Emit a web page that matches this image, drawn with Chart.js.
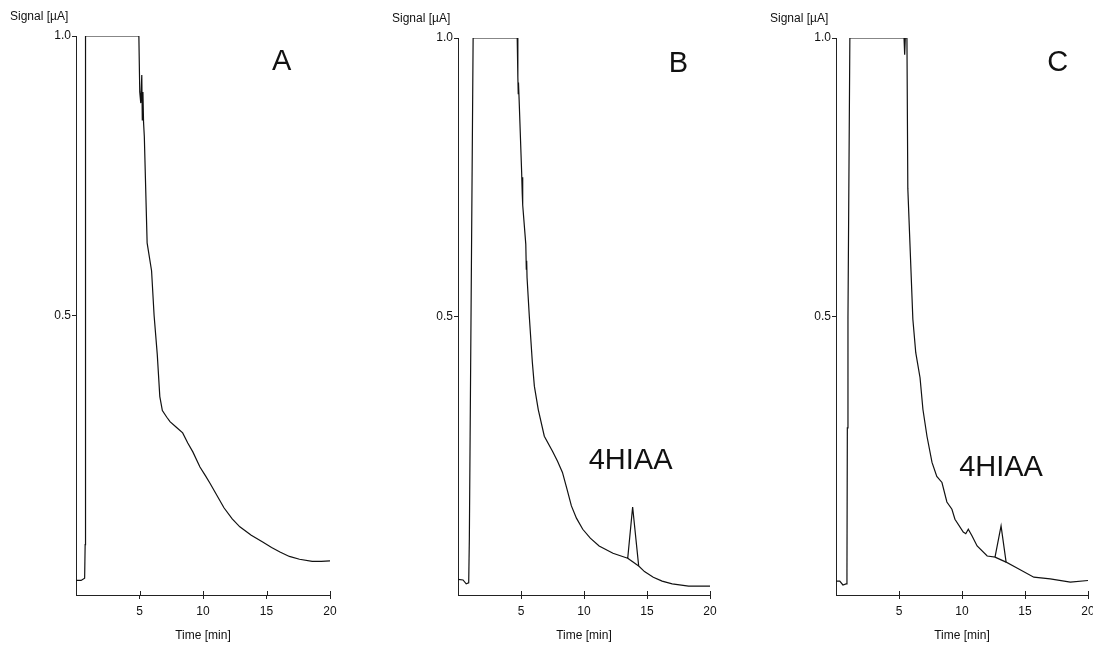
<!DOCTYPE html>
<html>
<head>
<meta charset="utf-8">
<script src="https://cdn.jsdelivr.net/npm/chart.js@4.4.1/dist/chart.umd.min.js"></script>
<style>
  html, body { margin: 0; padding: 0; background: #fff; overflow: hidden; }
  .panel { position: absolute; top: 0; }
</style>
</head>
<body>
<canvas id="chartA" class="panel" width="360" height="645" style="left:0px"></canvas>
<canvas id="chartB" class="panel" width="360" height="645" style="left:380px"></canvas>
<canvas id="chartC" class="panel" width="345" height="645" style="left:760px"></canvas>
<script>
// tick values
const xTicks = [5, 10, 15, 20];
const yTicks = [0.5, 1.0];

// chromatogram A
const timeA = [0, 0.4, 0.68, 0.72, 0.75, 4.95, 5.02, 5.1, 5.18, 5.22, 5.27, 5.32, 5.38, 5.6, 5.95, 6.15,
  6.4, 6.6, 6.8, 7.15, 7.4, 7.9, 8.4, 8.8, 9.2, 9.76, 10.2, 10.55, 11.1, 11.65, 12.3, 12.9, 13.8, 14.7,
  15.4, 16.06, 16.8, 17.6, 18.6, 19.3, 20];
const signalA = [0.026, 0.026, 0.03, 0.09, 1.0, 1.0, 0.9, 0.88, 0.93, 0.85, 0.9, 0.845, 0.82, 0.63, 0.58, 0.5,
  0.43, 0.355, 0.33, 0.318, 0.31, 0.3, 0.29, 0.272, 0.256, 0.229, 0.213, 0.2, 0.178, 0.156, 0.136, 0.122, 0.107, 0.095,
  0.085, 0.077, 0.069, 0.064, 0.06, 0.06, 0.061];

// chromatogram B
const timeB = [0, 0.4, 0.65, 0.85, 0.9, 1.2, 4.7, 4.75, 4.78, 4.8, 4.85, 5.05, 5.1, 5.12, 5.15, 5.38, 5.42, 5.45, 5.48, 5.66,
  5.9, 6.06, 6.37, 6.85, 7.5, 7.9, 8.29, 8.65, 9.0, 9.4, 9.9, 10.5, 11.2, 12.3, 13.47, 13.86, 14.34,
  14.8, 15.5, 16.2, 17.0, 18.3, 20];
const signalB = [0.028, 0.027, 0.02, 0.022, 0.1, 1.0, 1.0, 0.93, 0.9, 0.92, 0.89, 0.76, 0.72, 0.75, 0.7, 0.63, 0.585, 0.6, 0.57, 0.5,
  0.418, 0.375, 0.333, 0.285, 0.258, 0.24, 0.22, 0.19, 0.16, 0.138, 0.118, 0.102, 0.088, 0.075, 0.066, 0.158, 0.052,
  0.042, 0.032, 0.025, 0.02, 0.016, 0.016];
const baseTimeB = [13.47, 14.34];
const baseSignalB = [0.066, 0.052];

// chromatogram C
const timeC = [0, 0.3, 0.55, 0.8, 0.87, 0.9, 0.95, 1.1, 5.4, 5.45, 5.5, 5.63, 5.7, 6.1, 6.33, 6.67, 6.9, 7.22, 7.62, 8.0,
  8.41, 8.8, 9.2, 9.44, 10.1, 10.3, 10.5, 10.8, 11.2, 12.0, 12.62, 13.1, 13.5, 14.4, 15.7, 17.0, 18.6, 20];
const signalC = [0.025, 0.025, 0.018, 0.02, 0.04, 0.3, 0.5, 1.0, 1.0, 0.97, 1.0, 1.0, 0.73, 0.495, 0.435, 0.39, 0.333, 0.285, 0.238, 0.213,
  0.202, 0.167, 0.154, 0.136, 0.113, 0.11, 0.118, 0.106, 0.088, 0.07, 0.068, 0.124, 0.059, 0.048, 0.032, 0.029, 0.023, 0.026];
const baseTimeC = [12.62, 13.5];
const baseSignalC = [0.068, 0.059];

const FONT = '"Liberation Sans", Arial, sans-serif';
const toPoints = (xs, ys) => xs.map((x, i) => ({ x: x, y: ys[i] }));

// extra text + upward half of x ticks
const panelText = {
  id: 'panelText',
  afterDraw(chart, args, opts) {
    const { ctx, chartArea, scales } = chart;
    const sx = scales.x, sy = scales.y;
    ctx.save();
    ctx.fillStyle = '#111';
    ctx.strokeStyle = '#222';
    ctx.lineWidth = 1;
    sx.ticks.forEach(t => {
      const px = Math.round(sx.getPixelForValue(t.value)) + 0.5;
      ctx.beginPath();
      ctx.moveTo(px, chartArea.bottom);
      ctx.lineTo(px, chartArea.bottom - 4);
      ctx.stroke();
    });
    ctx.textAlign = 'left';
    ctx.textBaseline = 'middle';
    ctx.font = '12px ' + FONT;
    ctx.fillText('Signal [µA]', chartArea.left - 66, chartArea.top - 19);
    ctx.textAlign = 'center';
    ctx.textBaseline = 'alphabetic';
    ctx.font = '29px ' + FONT;
    ctx.fillText(opts.letter, sx.getPixelForValue(opts.letterAt[0]), sy.getPixelForValue(opts.letterAt[1]));
    if (opts.peakAt) {
      ctx.fillText('4HIAA', sx.getPixelForValue(opts.peakAt[0]), sy.getPixelForValue(opts.peakAt[1]));
    }
    ctx.restore();
  }
};

function makeChart(id, datasets, pad, text) {
  const ctx = document.getElementById(id).getContext('2d');
  return new Chart(ctx, {
    type: 'line',
    data: {
      datasets: datasets.map(d => ({
        data: d,
        borderColor: '#111',
        borderWidth: 1.2,
        pointRadius: 0,
        tension: 0,
        fill: false
      }))
    },
    options: {
      responsive: false,
      animation: false,
      devicePixelRatio: 1,
      layout: { padding: pad },
      plugins: {
        legend: { display: false },
        tooltip: { enabled: false },
        panelText: text
      },
      scales: {
        x: {
          type: 'linear', min: 0, max: 20,
          afterBuildTicks: s => { s.ticks = xTicks.map(v => ({ value: v })); },
          afterFit: s => { s.height = 50; },
          grid: { drawOnChartArea: false, tickLength: 4, color: '#222' },
          border: { color: '#222', width: 1 },
          ticks: { color: '#111', padding: 5, font: { size: 12, family: FONT }, callback: v => String(v) },
          title: { display: true, text: 'Time [min]', color: '#111', font: { size: 12, family: FONT }, padding: { top: 0, bottom: 2 } }
        },
        y: {
          type: 'linear', min: 0, max: 1,
          afterBuildTicks: s => { s.ticks = yTicks.map(v => ({ value: v })); },
          afterFit: s => { s.width = 66; },
          grid: { drawOnChartArea: false, tickLength: 4, color: '#222' },
          border: { color: '#222', width: 1 },
          ticks: { color: '#111', padding: 1, font: { size: 12, family: FONT }, callback: v => Number(v).toFixed(1) }
        }
      }
    },
    plugins: [panelText]
  });
}

makeChart('chartA', [toPoints(timeA, signalA)],
  { left: 10, right: 30, top: 36, bottom: 0 },
  { letter: 'A', letterAt: [16.2, 0.939] });

makeChart('chartB', [toPoints(timeB, signalB), toPoints(baseTimeB, baseSignalB)],
  { left: 12, right: 30, top: 38, bottom: 0 },
  { letter: 'B', letterAt: [17.5, 0.939], peakAt: [13.7, 0.226] });

makeChart('chartC', [toPoints(timeC, signalC), toPoints(baseTimeC, baseSignalC)],
  { left: 10, right: 17, top: 38, bottom: 0 },
  { letter: 'C', letterAt: [17.6, 0.941], peakAt: [13.1, 0.213] });
</script>
</body>
</html>
